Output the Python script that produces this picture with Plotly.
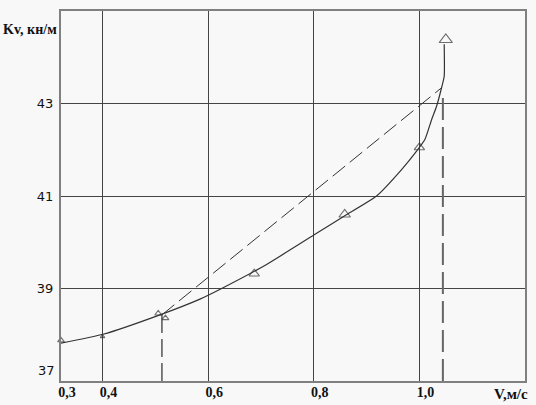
import plotly.graph_objects as go

# ---- data ----
curve_v = [0.3214, 0.401, 0.5088, 0.5845, 0.6256, 0.7107, 0.8008, 0.858, 0.919,
           0.9663, 0.9947, 1.0104, 1.0231, 1.0326, 1.042, 1.047, 1.047]
curve_k = [37.82, 38.01, 38.43, 38.77, 39.0, 39.52, 40.16, 40.57, 41.0,
           41.57, 41.97, 42.22, 42.65, 42.94, 43.34, 43.59, 44.28]

mark_v = [0.3214, 0.4, 0.5055, 0.5192, 0.6873, 0.8586, 1.0, 1.050]
mark_k = [37.88, 37.96, 38.46, 38.36, 39.32, 40.60, 42.05, 44.38]

chord_v = [0.5125, 1.042]
chord_k = [38.43, 43.34]

drop_left_v = [0.5125, 0.5125]
drop_left_k = [37.0, 38.43]
drop_right_v = [1.0445, 1.0445]
drop_right_k = [37.0, 43.24]

x_tickvals = [0.3214, 0.4, 0.6, 0.8, 1.0]
x_ticktext = ["0,3", "0,4", "0,6", "0,8", "1,0"]
y_tickvals = [39, 41, 43]
y_ticktext = ["39", "41", "43"]

# ---- styling ----
marker_sizes = [6, 4, 6, 6, 9, 10, 9, 11.5]
line_col = "#333333"
bg = "#f8f8f8"

fig = go.Figure()

fig.add_trace(go.Scatter(x=drop_left_v, y=drop_left_k, mode="lines",
                         line=dict(color="#555555", width=1.5, dash="18px,6px"),
                         hoverinfo="skip"))
fig.add_trace(go.Scatter(x=drop_right_v, y=drop_right_k, mode="lines",
                         line=dict(color="#666666", width=2, dash="22px,7px"),
                         hoverinfo="skip"))
fig.add_trace(go.Scatter(x=chord_v, y=chord_k, mode="lines",
                         line=dict(color=line_col, width=1, dash="16px,6px"),
                         hoverinfo="skip"))
fig.add_trace(go.Scatter(x=curve_v, y=curve_k, mode="lines",
                         line=dict(color=line_col, width=1.2, shape="spline", smoothing=0.5),
                         hoverinfo="skip"))
fig.add_trace(go.Scatter(x=mark_v, y=mark_k, mode="markers",
                         marker=dict(symbol="triangle-up-open", size=marker_sizes,
                                     color="#333333", line=dict(width=1.1, color="#333333")),
                         cliponaxis=False, hoverinfo="skip"))

fig.update_layout(
    width=536, height=405,
    margin=dict(l=61, r=11, t=11, b=24),
    paper_bgcolor=bg, plot_bgcolor=bg,
    showlegend=False,
    xaxis=dict(range=[0.3214, 1.2], tickvals=x_tickvals, ticktext=x_ticktext,
               showgrid=True, gridcolor="#444444", gridwidth=1.2,
               showline=True, linecolor="#808080", linewidth=2, mirror=True,
               zeroline=False, ticks="", ticklabelshift=6, ticklabelstandoff=-3,
               automargin=False,
               tickfont=dict(family="Liberation Serif", size=14, color="#111111", weight=700)),
    yaxis=dict(range=[37, 45], tickvals=y_tickvals, ticktext=y_ticktext,
               showgrid=True, gridcolor="#444444", gridwidth=1.2,
               showline=True, linecolor="#808080", linewidth=2, mirror=True,
               zeroline=False, ticks="", ticklabelstandoff=3, automargin=False,
               tickfont=dict(family="DejaVu Sans", size=13, color="#111111")),
    annotations=[
        dict(text="Kv, кн/м", xref="paper", x=0, xanchor="right", xshift=-2,
             yref="y", y=44.6, yanchor="middle", showarrow=False,
             font=dict(family="Liberation Serif", size=14, color="#111111", weight=700)),
        dict(text="37", xref="paper", x=0, xanchor="right", xshift=-4,
             yref="y", y=37.23, yanchor="middle", showarrow=False,
             font=dict(family="DejaVu Sans", size=13, color="#111111")),
        dict(text="V,м/с", xref="paper", x=0.97, xanchor="center",
             yref="paper", y=0, yanchor="top", yshift=-3, showarrow=False,
             font=dict(family="Liberation Serif", size=15, color="#111111", weight=700)),
    ],
)

fig.write_html("out.html", config={"displayModeBar": False},
               post_script="document.body.style.margin='0px';")
